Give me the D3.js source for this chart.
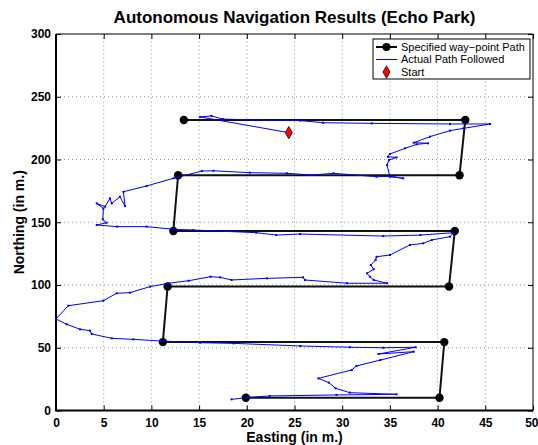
<!DOCTYPE html>
<html>
<head>
<meta charset="utf-8">
<script src="https://cdn.jsdelivr.net/npm/d3@7"></script>
<style>
  body { margin: 0; background: #fff; }
  text { font-family: "Liberation Sans", Arial, Helvetica, sans-serif; }
</style>
</head>
<body>
<div id="chart"></div>
<script>
// way-points (specified path)
let wpEast  = [13.4, 42.9, 42.3, 12.8, 12.3, 41.8, 41.2, 11.7, 11.2, 40.7, 40.2, 19.9];
let wpNorth = [231.5, 231.5, 187.5, 187.5, 143, 143, 98.8, 98.8, 54.5, 54.5, 10.2, 10.2];

// actual path followed
let pathEast = [24.4, 15.1, 16.3, 17.5, 21, 25.6, 28, 33.1, 41.3, 45.5,
  42.7, 41.3, 39.2, 37.5, 39, 37.8, 36.6, 35, 34.8, 35.7,
  34.9, 34.7, 35, 36.4, 35.2, 33.6, 29.1, 26.8, 24.2, 20.3,
  16.5, 15.3, 12.3, 9.5, 7.06, 7.24, 6.7, 5.84, 5.66, 5.14,
  4.27, 4.97, 4.9, 5.3, 4.27, 6.4, 9.5, 12.3, 14.4, 21,
  23.1, 25.6, 34.3, 38.2, 41.7, 41.3, 39.4, 38.5, 37.1, 35,
  33.6, 33.5, 33, 33.3, 32.6, 32.9, 33.3, 34.7, 30.5, 26.1,
  25.9, 22.1, 18.4, 17.2, 16.2, 13.9, 11.8, 9.86, 7.76, 6.36,
  4.96, 1.29, 0, 1.12, 2.52, 3.57, 3.74, 5.84, 8.1, 10.9,
  15.1, 18.6, 25.6, 30.8, 34.3, 37.7, 33.8, 37.5, 34, 31.5,
  31, 27.5, 28.6, 29.3, 30.8, 35.7, 29.4, 22.4, 20.3, 18.4];
let pathNorth = [221.4, 233.9, 234.7, 232.2, 231.5, 231, 229.3, 228.8, 228.3, 228.3,
  224.8, 223, 218.2, 213.4, 212.9, 212.1, 208.9, 204.4, 202.2, 201.7,
  199.6, 195.6, 186.3, 185, 186.6, 186.3, 189, 187.6, 189, 189.5,
  191, 190.8, 185, 178.9, 174.3, 162.9, 170.3, 165, 169, 162.4,
  165, 161, 152.3, 149.6, 147.8, 146.5, 146.5, 144.4, 143.8, 141.7,
  139.8, 140.6, 139, 139.8, 141.7, 138.5, 135.9, 133.2, 131.9, 123.9,
  122.5, 119.9, 115.9, 112.5, 109.3, 106.6, 104, 101.4, 101.4, 104,
  106.1, 105.3, 104, 106.1, 106.6, 103.4, 101.4, 98.7, 93.9, 93.4,
  87.5, 83.5, 72.9, 68.7, 64.7, 63.6, 61, 57.5, 56.7, 55.4,
  54, 53.5, 51.4, 50.4, 50, 50.4, 45, 46.9, 40.2, 35.5,
  32.3, 25.6, 22.2, 17.7, 14.2, 12.9, 12.4, 11.6, 10.5, 8.9];

let startEast = [24.4];
let startNorth = [221.4];

let xTicks = [0, 5, 10, 15, 20, 25, 30, 35, 40, 45, 50];
let yTicks = [0, 50, 100, 150, 200, 250, 300];
let legendLabels = ["Specified way\u2212point Path", "Actual Path Followed", "Start"];

let width = 538, height = 445;
let margin = { top: 34, right: 5, bottom: 34.5, left: 56 };
let pw = width - margin.left - margin.right;
let ph = height - margin.top - margin.bottom;

let svg = d3.select("#chart").append("svg")
  .attr("width", width)
  .attr("height", height);

let x = d3.scaleLinear().domain([0, 50]).range([margin.left, margin.left + pw]);
let y = d3.scaleLinear().domain([0, 300]).range([margin.top + ph, margin.top]);

// grid
svg.append("g").selectAll("line").data(xTicks.slice(1, -1)).enter().append("line")
  .attr("x1", d => x(d)).attr("x2", d => x(d))
  .attr("y1", y(0)).attr("y2", y(300))
  .attr("stroke", "#777").attr("stroke-width", 0.8).attr("stroke-dasharray", "1,3");
svg.append("g").selectAll("line").data(yTicks.slice(1, -1)).enter().append("line")
  .attr("x1", x(0)).attr("x2", x(50))
  .attr("y1", d => y(d)).attr("y2", d => y(d))
  .attr("stroke", "#777").attr("stroke-width", 0.8).attr("stroke-dasharray", "1,3");

// axes
let xAxis = svg.append("g").attr("transform", "translate(0," + y(0) + ")")
  .call(d3.axisBottom(x).tickValues(xTicks).tickSize(-5).tickPadding(8));
let xTop = svg.append("g").attr("transform", "translate(0," + y(300) + ")")
  .call(d3.axisTop(x).tickValues(xTicks).tickSize(-5).tickFormat(""));
let yAxis = svg.append("g").attr("transform", "translate(" + x(0) + ",0)")
  .call(d3.axisLeft(y).tickValues(yTicks).tickSize(-5).tickPadding(5));
let yRight = svg.append("g").attr("transform", "translate(" + x(50) + ",0)")
  .call(d3.axisRight(y).tickValues(yTicks).tickSize(-5).tickFormat(""));

[xAxis, xTop, yAxis, yRight].forEach(g => {
  g.selectAll(".domain").remove();
  g.selectAll(".tick line").attr("stroke", "#000");
  g.selectAll("text").attr("fill", "#000")
    .style("font-size", "12px").style("font-weight", "bold")
    .style("font-family", "'Liberation Sans', Arial, sans-serif");
});
// last x label sits at the window edge; keep it inside
xAxis.selectAll(".tick text").filter(d => d === 50).attr("text-anchor", "end").attr("x", 5);

// frame
svg.append("line").attr("x1", x(0)).attr("x2", x(50)).attr("y1", y(300)).attr("y2", y(300)).attr("stroke", "#000");
svg.append("line").attr("x1", x(50)).attr("x2", x(50)).attr("y1", y(0)).attr("y2", y(300)).attr("stroke", "#000");
svg.append("line").attr("x1", x(0) - 1).attr("x2", x(50)).attr("y1", y(0)).attr("y2", y(0)).attr("stroke", "#000").attr("stroke-width", 2);
svg.append("line").attr("x1", x(0)).attr("x2", x(0)).attr("y1", y(0)).attr("y2", y(300)).attr("stroke", "#000").attr("stroke-width", 2);

// way-point path
let wp = wpEast.map((e, i) => [e, wpNorth[i]]);
svg.append("path").datum(wp)
  .attr("d", d3.line().x(d => x(d[0])).y(d => y(d[1])))
  .attr("fill", "none").attr("stroke", "#111").attr("stroke-width", 2);
svg.append("g").selectAll("circle").data(wp).enter().append("circle")
  .attr("cx", d => x(d[0])).attr("cy", d => y(d[1])).attr("r", 4.2)
  .attr("fill", "#000");

// actual path
let ap = pathEast.map((e, i) => [e, pathNorth[i]]);
svg.append("path").datum(ap)
  .attr("d", d3.line().x(d => x(d[0])).y(d => y(d[1])))
  .attr("fill", "none").attr("stroke", "#0000ff").attr("stroke-width", 1);
svg.append("g").selectAll("rect").data(ap).enter().append("rect")
  .attr("x", d => x(d[0]) - 1).attr("y", d => y(d[1]) - 1)
  .attr("width", 2).attr("height", 2).attr("fill", "#0000ff");

// start marker
let diamond = d3.symbol().type(d3.symbolDiamond).size(40);
svg.append("g").selectAll("path").data(startEast).enter().append("path")
  .attr("d", diamond)
  .attr("transform", (d, i) => "translate(" + x(d) + "," + y(startNorth[i]) + ") scale(1.05,1.05)")
  .attr("fill", "#ff0000").attr("stroke", "#000").attr("stroke-width", 0.7);

// title and labels
svg.append("text").attr("x", (x(0) + x(50)) / 2).attr("y", 23)
  .attr("text-anchor", "middle").style("font-size", "17px").style("font-weight", "bold")
  .text("Autonomous Navigation Results (Echo Park)");
svg.append("text").attr("x", (x(0) + x(50)) / 2).attr("y", 442)
  .attr("text-anchor", "middle").style("font-size", "14px").style("font-weight", "bold")
  .text("Easting (in m.)");
svg.append("text").attr("transform", "translate(24," + (y(150)) + ") rotate(-90)")
  .attr("text-anchor", "middle").style("font-size", "14px").style("font-weight", "bold")
  .text("Northing (in m.)");

// legend
let lg = svg.append("g");
lg.append("rect").attr("x", 373).attr("y", 39).attr("width", 157).attr("height", 40)
  .attr("fill", "#fff").attr("stroke", "#000");
let rows = [47, 59.5, 72];
lg.append("line").attr("x1", 376).attr("x2", 397).attr("y1", rows[0]).attr("y2", rows[0])
  .attr("stroke", "#000").attr("stroke-width", 2);
lg.append("circle").attr("cx", 386.5).attr("cy", rows[0]).attr("r", 4).attr("fill", "#000");
lg.append("line").attr("x1", 376).attr("x2", 397).attr("y1", rows[1]).attr("y2", rows[1])
  .attr("stroke", "#0000ff").attr("stroke-width", 1);
lg.append("path").attr("d", diamond)
  .attr("transform", "translate(386.5," + rows[2] + ") scale(1.05,1.05)")
  .attr("fill", "#ff0000").attr("stroke", "#000").attr("stroke-width", 0.7);
lg.selectAll("text").data(legendLabels).enter().append("text")
  .attr("x", 401).attr("y", (d, i) => rows[i])
  .attr("dy", "0.35em").style("font-size", "11px")
  .text(d => d);
</script>
</body>
</html>
